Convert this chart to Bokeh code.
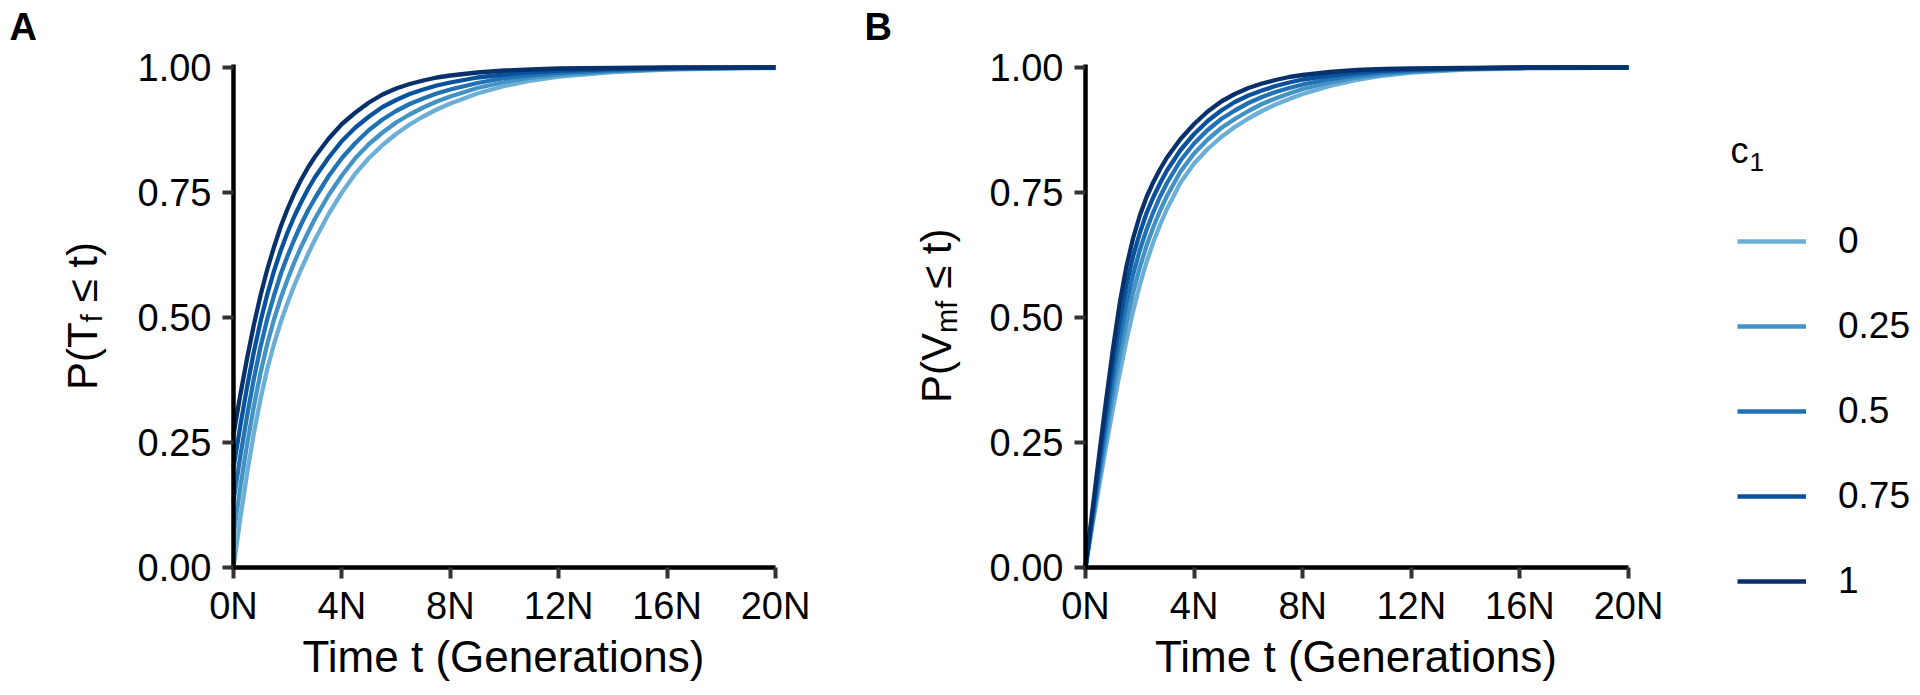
from bokeh.plotting import figure
from bokeh.models import Range1d, FixedTicker, Label, Legend, LegendItem
from bokeh.layouts import row
from bokeh.embed import file_html
from bokeh.resources import INLINE

# ---------------- data ----------------
t_gen = [0, 0.25, 0.5, 0.75, 1, 1.25, 1.5, 1.75, 2, 2.25, 2.5, 2.75, 3, 3.5, 4, 4.5,
         5, 5.5, 6, 6.5, 7, 7.5, 8, 9, 10, 11, 12, 14, 16, 18, 20]
c1_levels = ["0", "0.25", "0.5", "0.75", "1"]
colors = ["#6BAED6", "#4292C6", "#2171B5", "#08519C", "#08306B"]

# Panel A: P(T_f <= t)
tf_c0 = [0.000, 0.098, 0.188, 0.268, 0.338, 0.398, 0.448, 0.492, 0.530, 0.565, 0.597, 0.627, 0.655, 0.706, 0.750, 0.788,
         0.819, 0.845, 0.867, 0.886, 0.902, 0.916, 0.928, 0.948, 0.963, 0.974, 0.982, 0.991, 0.996, 0.998, 0.999]
tf_c025 = [0.066, 0.160, 0.246, 0.322, 0.390, 0.448, 0.497, 0.540, 0.577, 0.611, 0.642, 0.670, 0.697, 0.744, 0.784, 0.819,
           0.847, 0.870, 0.890, 0.906, 0.920, 0.932, 0.942, 0.959, 0.971, 0.980, 0.986, 0.993, 0.997, 0.999, 1.000]
tf_c05 = [0.133, 0.222, 0.303, 0.377, 0.442, 0.498, 0.545, 0.588, 0.624, 0.657, 0.687, 0.714, 0.738, 0.782, 0.819, 0.849,
          0.875, 0.896, 0.913, 0.927, 0.938, 0.948, 0.956, 0.969, 0.979, 0.985, 0.990, 0.995, 0.998, 0.999, 1.000]
tf_c075 = [0.199, 0.283, 0.361, 0.431, 0.493, 0.547, 0.594, 0.635, 0.671, 0.703, 0.731, 0.757, 0.780, 0.819, 0.853, 0.880,
           0.902, 0.921, 0.935, 0.947, 0.956, 0.964, 0.970, 0.980, 0.986, 0.991, 0.994, 0.997, 0.999, 1.000, 1.000]
tf_c1 = [0.265, 0.345, 0.418, 0.485, 0.545, 0.597, 0.642, 0.683, 0.718, 0.749, 0.776, 0.800, 0.821, 0.857, 0.887, 0.910,
         0.930, 0.946, 0.958, 0.967, 0.974, 0.980, 0.984, 0.990, 0.994, 0.996, 0.998, 0.999, 1.000, 1.000, 1.000]

# Panel B: P(V_mf <= t)
vmf_c0 = [0.000, 0.082, 0.162, 0.240, 0.315, 0.386, 0.452, 0.512, 0.565, 0.611, 0.651, 0.686, 0.717, 0.770, 0.808, 0.837,
          0.861, 0.881, 0.898, 0.913, 0.926, 0.937, 0.947, 0.963, 0.975, 0.984, 0.990, 0.996, 0.998, 0.999, 1.000]
vmf_c025 = [0.000, 0.090, 0.178, 0.263, 0.345, 0.421, 0.489, 0.549, 0.600, 0.644, 0.681, 0.714, 0.743, 0.792, 0.828, 0.856,
            0.879, 0.897, 0.913, 0.927, 0.938, 0.948, 0.957, 0.970, 0.980, 0.987, 0.992, 0.997, 0.999, 1.000, 1.000]
vmf_c05 = [0.000, 0.097, 0.193, 0.286, 0.374, 0.456, 0.526, 0.585, 0.635, 0.676, 0.711, 0.742, 0.769, 0.814, 0.848, 0.875,
           0.897, 0.914, 0.929, 0.941, 0.951, 0.959, 0.966, 0.977, 0.985, 0.991, 0.994, 0.998, 0.999, 1.000, 1.000]
vmf_c075 = [0.000, 0.105, 0.209, 0.308, 0.404, 0.490, 0.563, 0.622, 0.669, 0.709, 0.741, 0.769, 0.794, 0.835, 0.867, 0.893,
            0.914, 0.931, 0.944, 0.954, 0.963, 0.970, 0.976, 0.984, 0.990, 0.994, 0.996, 0.998, 1.000, 1.000, 1.000]
vmf_c1 = [0.000, 0.112, 0.224, 0.331, 0.433, 0.525, 0.600, 0.658, 0.704, 0.741, 0.771, 0.797, 0.820, 0.857, 0.887, 0.912,
          0.932, 0.947, 0.959, 0.968, 0.975, 0.981, 0.985, 0.991, 0.995, 0.997, 0.998, 0.999, 1.000, 1.000, 1.000]

x_ticks = [0, 4, 8, 12, 16, 20]
x_tick_labels = ["0N", "4N", "8N", "12N", "16N", "20N"]
y_ticks = [0.0, 0.25, 0.5, 0.75, 1.0]
y_tick_labels = ["0.00", "0.25", "0.50", "0.75", "1.00"]
x_title = "Time t (Generations)"

series_A = [tf_c0, tf_c025, tf_c05, tf_c075, tf_c1]
series_B = [vmf_c0, vmf_c025, vmf_c05, vmf_c075, vmf_c1]

FONT = "Liberation Sans"
H = 693
ROT = 1.5707963267948966


def make_panel(width, x_lo, x_hi, series):
    # the frame fills the whole canvas; axes are pinned at the data origin
    p = figure(width=width, height=H, output_backend="svg", toolbar_location=None,
               x_range=Range1d(x_lo, x_hi), y_range=Range1d(-0.252, 1.134),
               min_border_left=0, min_border_right=0, min_border_top=0, min_border_bottom=0)
    p.outline_line_color = None
    p.grid.visible = False
    rs = []
    for ys, col in zip(series, colors):
        rs.append(p.line(t_gen, ys, line_color=col, line_width=4.3))
    for ax in (p.xaxis[0], p.yaxis[0]):
        ax.fixed_location = 0
        ax.axis_line_width = 4.5
        ax.axis_line_color = "black"
        ax.major_tick_line_width = 4
        ax.major_tick_line_color = "#333333"
        ax.major_tick_out = 11
        ax.major_tick_in = 0
        ax.minor_tick_line_color = None
        ax.major_label_text_font = FONT
        ax.major_label_text_font_size = "38px"
        ax.major_label_text_color = "black"
    p.xaxis.bounds = (-0.083, 20)
    p.yaxis.bounds = (-0.0045, 1.006)
    p.xaxis.ticker = FixedTicker(ticks=x_ticks)
    p.xaxis.major_label_overrides = dict(zip(x_ticks, x_tick_labels))
    p.yaxis.ticker = FixedTicker(ticks=y_ticks)
    p.yaxis.major_label_overrides = dict(zip(y_ticks, y_tick_labels))
    p.yaxis.major_label_standoff = 11
    p.xaxis.major_label_standoff = 6
    p.xaxis.axis_label = x_title
    p.xaxis.axis_label_text_font = FONT
    p.xaxis.axis_label_text_font_size = "44px"
    p.xaxis.axis_label_text_font_style = "normal"
    p.xaxis.axis_label_text_color = "black"
    p.xaxis.axis_label_standoff = 2
    return p, rs


def lab(p, x, y, text, size, angle=0.0, bold=False):
    p.add_layout(Label(x=x, y=y, text=text, angle=angle, text_font=FONT,
                       text_font_size=size, text_color="black",
                       text_font_style="bold" if bold else "normal",
                       text_align="left", text_baseline="alphabetic"))


# ---------------- Panel A ----------------
pA, _ = make_panel(830, -8.5978, 22.0295, series_A)
lab(pA, -5.572, 0.355, "P(T", "42px", ROT)
lab(pA, -5.203, 0.4904, "f", "29px", ROT)
lab(pA, -5.572, 0.530, "\u2264 t)", "42px", ROT)
lab(pA, -8.2657, 1.082, "A", "38px", bold=True)

# ---------------- Panel B ----------------
pB, rB = make_panel(1085, -9.3923, 30.5709, series_B)
lab(pB, -5.488, 0.3292, "P(V", "42px", ROT)
lab(pB, -5.1197, 0.4692, "mf", "29px", ROT)
lab(pB, -5.488, 0.557, "\u2264 t)", "42px", ROT)
lab(pB, -8.14, 1.082, "B", "38px", bold=True)

# ---------------- Legend (c1) ----------------
items = [LegendItem(label=lvl, renderers=[r]) for lvl, r in zip(c1_levels, rB)]
leg = Legend(items=items, location=(907, 82.5), orientation="vertical",
             glyph_width=69, glyph_height=60, spacing=25, label_standoff=32,
             label_text_font=FONT, label_text_font_size="37px", label_text_color="black",
             border_line_color=None, background_fill_color=None, padding=0, margin=0)
pB.add_layout(leg, "center")
lab(pB, 23.757, 0.8334, "c", "36px")
lab(pB, 24.457, 0.8114, "1", "26px")

layout = row(pA, pB)
open("out.html", "w").write(file_html(layout, INLINE))
